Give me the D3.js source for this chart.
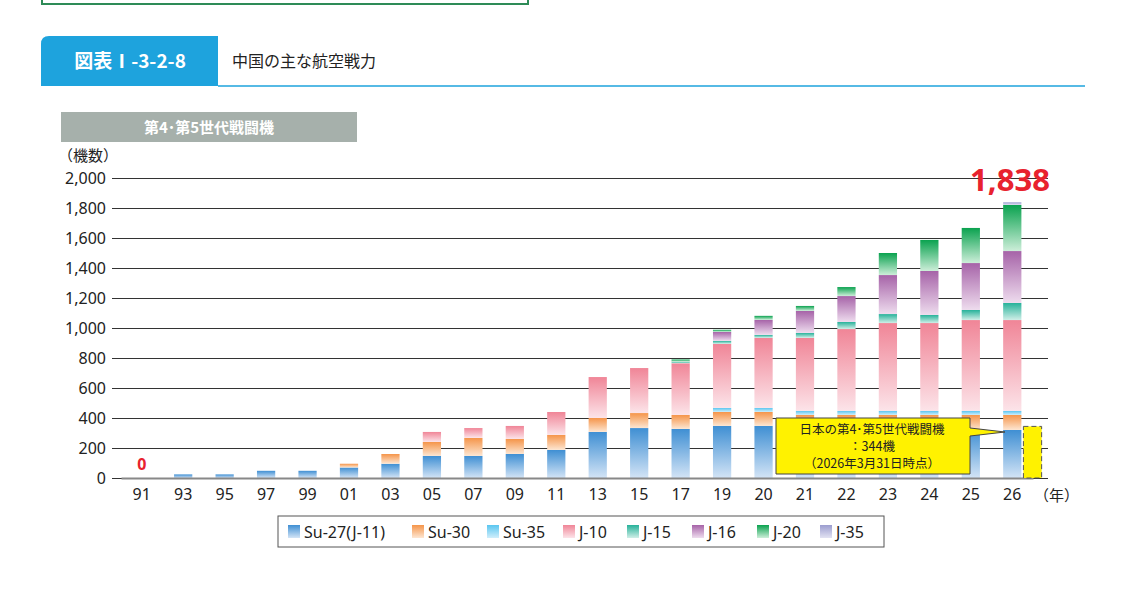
<!DOCTYPE html>
<html><head><meta charset="utf-8">
<script src="https://cdn.jsdelivr.net/npm/d3@7"></script>
<style>body{margin:0;background:#fff;font-family:"Noto Sans CJK JP","Noto Sans",sans-serif}</style>
</head><body><svg id="c" width="1122" height="598"></svg>
<script>
const years = ["91","93","95","97","99","01","03","05","07","09","11","13","15","17","19","20","21","22","23","24","25","26"];
const su27 = [0,24,24,48,48,70,95,147,147,160,187,307,333,327,347,347,330,320,320,320,320,320];
const su30 = [0,0,0,0,0,25,65,93,120,100,100,93,100,93,93,93,90,100,100,100,100,100];
const su35 = [0,0,0,0,0,0,0,0,0,0,0,0,0,0,27,27,27,27,27,27,27,27];
const j10 = [0,0,0,0,0,0,0,67,66,87,153,273,300,345,427,467,487,546,586,586,606,606];
const j15 = [0,0,0,0,0,0,0,0,0,0,0,0,0,10,20,20,33,47,60,54,67,114];
const j16 = [0,0,0,0,0,0,0,0,0,0,0,0,0,0,60,100,147,173,260,293,313,346];
const j20 = [0,0,0,0,0,0,0,0,0,0,0,0,0,15,14,27,33,60,147,207,234,307];
const j35 = [0,0,0,0,0,0,0,0,0,0,0,0,0,0,0,0,0,0,0,0,0,18];
const seriesNames = ["Su-27(J-11)","Su-30","Su-35","J-10","J-15","J-16","J-20","J-35"];
const seriesVals = [su27,su30,su35,j10,j15,j16,j20,j35];
const darkCols = ["#3f8fd3","#f5954a","#5ac6f0","#f08597","#27b29a","#a663a8","#0aa24f","#9b9dcf"];
const lightCols = ["#d3e4f6","#fde6d2","#d0eefb","#fce4e9","#d0eee7","#eedcee","#cdeed9","#e2e2f2"];
const yTicks = [0,200,400,600,800,1000,1200,1400,1600,1800,2000];
const japanCount = 344;

const svg = d3.select("#c");
const defs = svg.append("defs");
seriesNames.forEach((n,i)=>{
  const g = defs.append("linearGradient").attr("id","g"+i).attr("x1",0).attr("y1",0).attr("x2",0).attr("y2",1);
  g.append("stop").attr("offset","0%").attr("stop-color",darkCols[i]);
  g.append("stop").attr("offset","100%").attr("stop-color",lightCols[i]);
});

// header
svg.append("path").attr("d","M42,0V4H528V0").attr("fill","none").attr("stroke","#2e8b57").attr("stroke-width",2);
svg.append("path").attr("d","M41,44Q41,36 49,36H218V86H41Z").attr("fill","#1ea3dd");
svg.append("text").attr("x",130).attr("y",68).attr("text-anchor","middle").attr("fill","#fff")
  .attr("font-size",19).attr("font-weight","bold").text("図表Ⅰ-3-2-8");
svg.append("line").attr("x1",218).attr("x2",1085).attr("y1",86).attr("y2",86).attr("stroke","#1ea3dd").attr("stroke-width",1.5);
svg.append("text").attr("x",232).attr("y",67).attr("font-size",16).attr("fill","#222").text("中国の主な航空戦力");
svg.append("rect").attr("x",61).attr("y",112).attr("width",296).attr("height",30).attr("fill","#a6b0ab");
svg.append("text").attr("x",209).attr("y",133).attr("text-anchor","middle").attr("fill","#fff")
  .attr("font-size",15).attr("font-weight","bold").text("第4･第5世代戦闘機");
svg.append("text").attr("x",58).attr("y",161).attr("font-size",15).attr("fill","#222").text("（機数）");

const x = d3.scaleBand().domain(years).range([121,1033]).paddingInner(0.56).paddingOuter(0.28);
const y = d3.scaleLinear().domain([0,2000]).range([478,178]);

const gy = svg.append("g").attr("transform","translate(112,0)")
  .call(d3.axisLeft(y).tickValues(yTicks).tickSize(-936).tickFormat(d3.format(",")));
gy.select(".domain").remove();
gy.selectAll("line").attr("stroke","#333").attr("stroke-width",1.2);
gy.selectAll("text").attr("x",-6).attr("font-size",16).attr("fill","#222").attr("font-family","Noto Sans");

const stack = d3.stack().keys(d3.range(8)).value((d,k)=>seriesVals[k][d]);
const layers = stack(d3.range(years.length));
svg.append("g").selectAll("g").data(layers).join("g").attr("fill",(d,i)=>`url(#g${i})`)
  .selectAll("rect").data(d=>d.filter(s=>s[1]>s[0])).join("rect")
  .attr("x",d=>x(years[d.data])).attr("width",x.bandwidth())
  .attr("y",d=>y(d[1])).attr("height",d=>y(d[0])-y(d[1]));

const gx = svg.append("g").attr("transform","translate(0,478)").call(d3.axisBottom(x).tickSize(0));
gx.select(".domain").attr("stroke","#888").attr("stroke-width",2);
gx.selectAll("text").attr("dy","1.2em").attr("font-size",16).attr("fill","#222").attr("font-family","Noto Sans");
svg.append("text").attr("x",1034).attr("y",501).attr("font-size",15).attr("fill","#222").text("（年）");

svg.append("text").attr("x",x("91")+x.bandwidth()/2).attr("y",470).attr("text-anchor","middle")
  .attr("fill","#e8222e").attr("font-size",16).attr("font-weight","bold").attr("font-family","Noto Sans").text("0");
const last = years.length-1;
const total = d3.sum(seriesVals,s=>s[last]);
svg.append("text").attr("x",1010).attr("y",191).attr("text-anchor","middle")
  .attr("fill","#e8222e").attr("font-size",31).attr("font-weight","bold").attr("font-family","Noto Sans").text(d3.format(",")(total));

// Japan comparison
const jx = x("26")+x.bandwidth()+2;
svg.append("rect").attr("x",jx).attr("y",y(japanCount)).attr("width",x.bandwidth()).attr("height",478-y(japanCount))
  .attr("fill","#fff200").attr("stroke","#555").attr("stroke-dasharray","5,3");
svg.append("path").attr("d",`M776,418H970V428L1005,432L970,436V474H776Z`).attr("fill","#fff200").attr("stroke","#444");
const ct = svg.append("g").attr("font-size",12.5).attr("fill","#222").attr("text-anchor","middle");
ct.append("text").attr("x",872).attr("y",434).text("日本の第4･第5世代戦闘機");
ct.append("text").attr("x",872).attr("y",451).text(`：${japanCount}機`);
ct.append("text").attr("x",872).attr("y",468).text("（2026年3月31日時点）");

// legend
svg.append("rect").attr("x",278).attr("y",516).attr("width",606).attr("height",31).attr("fill","#fff").attr("stroke","#555");
const lw = [124,75,76,64,65,65,63,60];
let lx = 288;
seriesNames.forEach((n,i)=>{
  svg.append("rect").attr("x",lx).attr("y",525).attr("width",12).attr("height",13).attr("fill",`url(#g${i})`);
  svg.append("text").attr("x",lx+16).attr("y",538).attr("font-size",16).attr("fill","#222").attr("font-family","Noto Sans").text(n);
  lx += lw[i];
});
</script></body></html>
